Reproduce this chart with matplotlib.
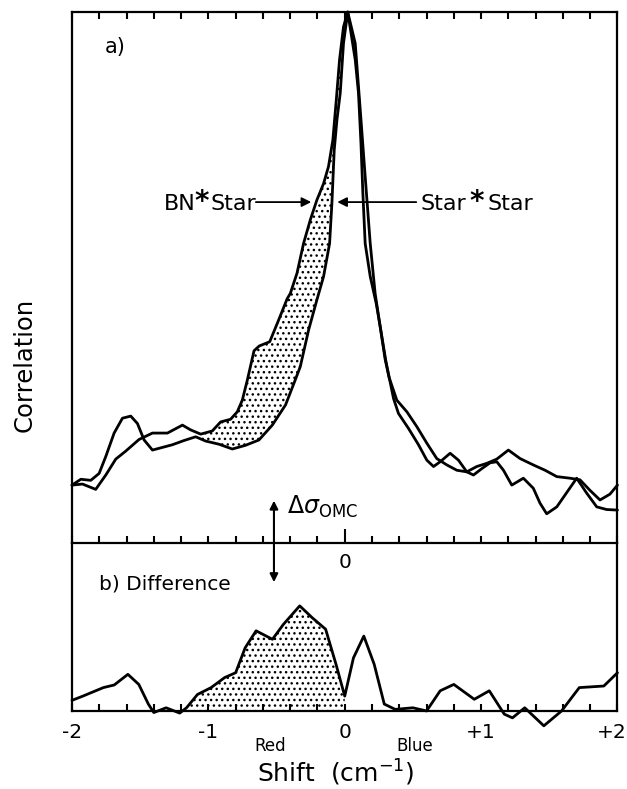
import matplotlib
matplotlib.use('Agg')
import matplotlib.pyplot as plt
from matplotlib.ticker import MultipleLocator, FixedLocator
from matplotlib.transforms import ScaledTranslation
import numpy as np

# ------------------------------------------------------------------------------
# Data (shift in cm^-1, correlation normalised to the peak)
# ------------------------------------------------------------------------------
star_x = np.array([-2.00, -1.935, -1.862, -1.801, -1.752, -1.691, -1.630, -1.569,
                   -1.520, -1.471, -1.410, -1.337, -1.264, -1.178, -1.093, -1.020,
                   -0.922, -0.824, -0.727, -0.629, -0.531, -0.434, -0.363, -0.326,
                   -0.265, -0.204, -0.155, -0.111, -0.094, -0.077, -0.057, -0.033,
                   -0.009, 0.022, 0.077, 0.101, 0.119, 0.133, 0.150, 0.187, 0.231,
                   0.262, 0.300, 0.321, 0.358, 0.394, 0.467, 0.541, 0.602, 0.651,
                   0.700, 0.773, 0.834, 0.895, 0.944, 1.005, 1.066, 1.115, 1.164,
                   1.225, 1.310, 1.383, 1.432, 1.481, 1.555, 1.628, 1.701, 1.774,
                   1.848, 1.921, 2.00])
star_y = np.array([0.109, 0.120, 0.118, 0.131, 0.163, 0.207, 0.235, 0.239,
                   0.225, 0.194, 0.175, 0.180, 0.185, 0.193, 0.200, 0.192,
                   0.186, 0.177, 0.184, 0.194, 0.222, 0.260, 0.307, 0.332,
                   0.401, 0.458, 0.502, 0.564, 0.640, 0.740, 0.797, 0.847,
                   0.941, 1.000, 0.910, 0.847, 0.753, 0.659, 0.564, 0.502, 0.451,
                   0.405, 0.345, 0.318, 0.272, 0.244, 0.216, 0.185, 0.156, 0.144,
                   0.153, 0.169, 0.156, 0.134, 0.128, 0.140, 0.151, 0.153, 0.137,
                   0.109, 0.122, 0.103, 0.075, 0.055, 0.068, 0.095, 0.122, 0.094,
                   0.068, 0.063, 0.062])

bn_x = np.array([-2.00, -1.923, -1.826, -1.752, -1.679, -1.606, -1.508, -1.410,
                 -1.300, -1.190, -1.130, -1.056, -0.971, -0.910, -0.837, -0.788,
                 -0.751, -0.714, -0.665, -0.627, -0.550, -0.486, -0.422, -0.399,
                 -0.350, -0.302, -0.253, -0.204, -0.155, -0.119, -0.087, -0.062,
                 -0.038, -0.009, 0.022, 0.077, 0.114, 0.150, 0.187, 0.223, 0.260,
                 0.297, 0.325, 0.382, 0.456, 0.529, 0.602, 0.675, 0.749, 0.822,
                 0.895, 0.968, 1.042, 1.115, 1.200, 1.286, 1.383, 1.469, 1.555,
                 1.652, 1.725, 1.799, 1.872, 1.945, 2.00])
bn_y = np.array([0.109, 0.111, 0.101, 0.128, 0.158, 0.173, 0.195, 0.207,
                 0.207, 0.222, 0.213, 0.205, 0.211, 0.228, 0.233, 0.247,
                 0.269, 0.307, 0.362, 0.371, 0.379, 0.419, 0.460, 0.470,
                 0.508, 0.564, 0.608, 0.646, 0.677, 0.709, 0.759, 0.834,
                 0.910, 0.972, 1.000, 0.941, 0.815, 0.690, 0.564, 0.470, 0.407,
                 0.345, 0.312, 0.269, 0.247, 0.219, 0.188, 0.159, 0.147, 0.137,
                 0.134, 0.144, 0.150, 0.158, 0.175, 0.159, 0.147, 0.137, 0.125,
                 0.122, 0.119, 0.099, 0.081, 0.092, 0.109])

diff_x = np.array([-2.00, -1.92, -1.77, -1.69, -1.59, -1.51, -1.44, -1.40, -1.31,
                   -1.21, -1.16, -1.08, -0.98, -0.88, -0.80, -0.73, -0.65, -0.53,
                   -0.45, -0.33, -0.24, -0.14, -0.064, 0.0, 0.064, 0.14, 0.216,
                   0.29, 0.37, 0.50, 0.60, 0.70, 0.80, 0.95, 1.06, 1.17, 1.23,
                   1.32, 1.46, 1.59, 1.72, 1.90, 2.00])
diff_y = np.array([0.020, 0.028, 0.044, 0.049, 0.069, 0.050, 0.013, -0.003, 0.006,
                   -0.004, 0.006, 0.031, 0.044, 0.063, 0.072, 0.119, 0.151, 0.135,
                   0.163, 0.198, 0.176, 0.154, 0.088, 0.028, 0.100, 0.141, 0.088,
                   0.013, 0.003, 0.006, 0.000, 0.038, 0.050, 0.022, 0.038, -0.006,
                   -0.013, 0.006, -0.028, 0.000, 0.044, 0.047, 0.072])

bottom_ticks = [-2, -1, 0, 1, 2]
bottom_labels = ['-2', '-1', '0', '+1', '+2']

# ------------------------------------------------------------------------------
plt.rcParams['font.family'] = ['DejaVu Sans']
plt.rcParams['hatch.linewidth'] = 1.0
Linewidth = 2.0
line_kw = dict(color='black', linewidth=Linewidth, clip_on=False,
               solid_joinstyle='round', solid_capstyle='round')

fig = plt.figure(figsize=(6.27, 7.89), dpi=100)
ax_a = fig.add_axes([0.1148, 0.3118, 0.8700, 0.6730])
ax_b = fig.add_axes([0.1148, 0.0989, 0.8700, 0.2129])
ax_b.patch.set_visible(False)

# ---- panel a ----
ax_a.plot(bn_x, bn_y, **line_kw)
ax_a.plot(star_x, star_y, **line_kw)

mb = (bn_x >= -1.06) & (bn_x <= 0.022)
ms = (star_x >= -1.093) & (star_x <= 0.022)
ax_a.fill(np.concatenate([bn_x[mb], star_x[ms][::-1]]),
          np.concatenate([bn_y[mb], star_y[ms][::-1]]),
          facecolor='white', edgecolor='black', hatch='...', linewidth=0)

ax_a.set_xlim(-2, 2)
ax_a.set_ylim(0, 1)
ax_a.set_yticks([])
ax_a.xaxis.set_major_locator(FixedLocator([0]))
ax_a.xaxis.set_minor_locator(MultipleLocator(0.2))
ax_a.set_xticklabels(['0'], fontsize=14.5)
ax_a.tick_params(axis='x', which='both', direction='in', top=True, width=1.5)
ax_a.tick_params(axis='x', which='major', length=10, pad=7)
ax_a.tick_params(axis='x', which='minor', length=5)
for s in ax_a.spines.values():
    s.set_linewidth(1.6)

ax_a.text(-1.76, 0.935, 'a)', fontsize=15, va='center')

# labels with arrows
ax_a.annotate('', xy=(-0.225, 0.642), xytext=(-0.672, 0.642),
              arrowprops=dict(arrowstyle='-|>', color='black', lw=1.3, mutation_scale=14))
ax_a.annotate('', xy=(-0.075, 0.642), xytext=(0.545, 0.642),
              arrowprops=dict(arrowstyle='-|>', color='black', lw=1.3, mutation_scale=14))
ax_a.text(-1.095, 0.627, 'BN', fontsize=16, ha='right', va='baseline')
ax_a.text(-1.051, 0.627, '*', fontsize=20, fontweight='bold', ha='center', va='baseline')
ax_a.text(-0.985, 0.627, 'Star', fontsize=16, ha='left', va='baseline')
ax_a.text(0.89, 0.627, 'Star', fontsize=16, ha='right', va='baseline')
ax_a.text(0.967, 0.627, '*', fontsize=20, fontweight='bold', ha='center', va='baseline')
ax_a.text(1.044, 0.627, 'Star', fontsize=16, ha='left', va='baseline')

# delta sigma double arrow, crossing into panel b
ax_a.annotate('', xy=(-0.519, 0.085), xytext=(-0.519, -0.079),
              arrowprops=dict(arrowstyle='<|-|>', color='black', lw=1.5, mutation_scale=12),
              annotation_clip=False)
ax_a.text(-0.42, 0.068, r'$\Delta\sigma_{\mathrm{OMC}}$', fontsize=17, ha='left', va='center')

# ---- panel b ----
ax_b.plot(diff_x, diff_y, **line_kw)
ax_b.fill_between(diff_x, 0, diff_y, where=(diff_x >= -1.16) & (diff_x <= 0.0),
                  facecolor='white', edgecolor='black', hatch='...', linewidth=0)
ax_b.set_xlim(-2, 2)
ax_b.set_ylim(0, 0.3164)
ax_b.set_yticks([])
ax_b.spines['top'].set_visible(False)
for s in ['left', 'right', 'bottom']:
    ax_b.spines[s].set_linewidth(1.6)
ax_b.xaxis.set_major_locator(FixedLocator(bottom_ticks))
ax_b.xaxis.set_minor_locator(MultipleLocator(0.2))
ax_b.set_xticklabels(bottom_labels, fontsize=14.5)
ax_b.tick_params(axis='x', which='both', direction='in', length=5, width=1.5, pad=9)
# keep the +2 label inside the picture
lbl = ax_b.get_xticklabels()[-1]
lbl.set_transform(lbl.get_transform() + ScaledTranslation(-4 / 72, 0, fig.dpi_scale_trans))

ax_b.text(-1.80, 0.239, 'b) Difference', fontsize=14.5, va='center')
ax_b.text(-0.545, -0.066, 'Red', fontsize=12, ha='center', va='center')
ax_b.text(0.51, -0.066, 'Blue', fontsize=12, ha='center', va='center')

fig.text(0.536, 0.009, r'Shift  (cm$^{-1}$)', fontsize=18, ha='center', va='baseline')
fig.text(0.040, 0.537, 'Correlation', fontsize=17.5, rotation=90, ha='center', va='center')

plt.savefig('out.png', dpi=100)
